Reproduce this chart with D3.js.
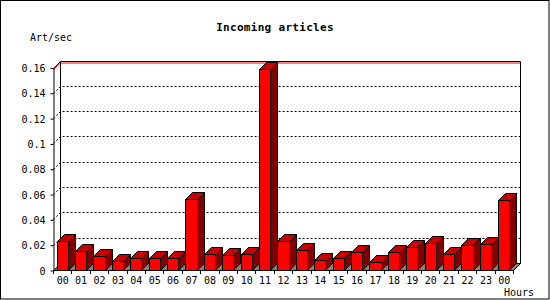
<!DOCTYPE html>
<html>
<head>
<meta charset="utf-8">
<script src="https://cdn.jsdelivr.net/npm/d3@7"></script>
<style>
  body { margin: 0; background: #fff; }
  svg { display: block; }
  text { font-family: "DejaVu Sans Mono", monospace; fill: #000; }
</style>
</head>
<body>
<svg id="chart" width="550" height="300"></svg>
<script>
const width = 550, height = 300;

// data
const hours = ["00", "01", "02", "03", "04", "05", "06", "07", "08", "09", "10", "11",
    "12", "13", "14", "15", "16", "17", "18", "19", "20", "21", "22", "23", "00"];
const artPerSec = [0.023, 0.015, 0.011, 0.007, 0.0095, 0.0095, 0.0095, 0.056, 0.013, 0.0116, 0.0126, 0.159,
    0.0229, 0.0158, 0.0079, 0.0095, 0.0142, 0.0061, 0.014, 0.0179, 0.0211, 0.0124, 0.0195, 0.0203, 0.0553];
const yTickValues = [0, 0.02, 0.04, 0.06, 0.08, 0.1, 0.12, 0.14, 0.16];
const yTickLabels = ["0", "0.02", "0.04", "0.06", "0.08", "0.1", "0.12", "0.14", "0.16"];

const plot = { left: 53, right: 513, top: 67.5, bottom: 270 };
const depth = 7;

const svg = d3.select("#chart");

// slot index -> x for the bars
const x = d3.scaleBand()
    .domain(d3.range(hours.length))
    .range([plot.left, plot.right])
    .paddingInner(0.4)
    .paddingOuter(0.2);

// slot boundaries for the small ticks
const xEdge = d3.scaleLinear()
    .domain([0, hours.length])
    .range([plot.left, plot.right]);

const y = d3.scaleLinear()
    .domain([0, 0.16])
    .range([plot.bottom, plot.top]);

svg.append("rect")
    .attr("x", 0.5).attr("y", 0.5)
    .attr("width", width - 1.5).attr("height", height - 1.5)
    .attr("fill", "#fff")
    .attr("stroke", "#000");

// back wall grid lines (dotted, bent back from the front axis)
svg.append("g")
    .selectAll("path")
    .data(yTickValues.filter(v => v > 0 && v < 0.16))
    .enter()
    .append("path")
    .attr("d", v => {
        const yy = Math.round(y(v)) + 0.5;
        return `M${plot.left + 0.5},${yy} L${plot.left + depth + 0.5},${yy - depth} L${plot.right + depth + 0.5},${yy - depth}`;
    })
    .attr("fill", "none")
    .attr("stroke", "#000")
    .attr("stroke-dasharray", "2,2");

// back wall frame
const topY = Math.round(y(0.16)) + 0.5;
svg.append("path")
    .attr("d", `M${plot.left + 0.5},${topY + 1} L${plot.left + depth + 0.5},${topY - depth + 1.5} L${plot.right + depth + 0.5},${topY - depth + 1.5}`)
    .attr("fill", "none")
    .attr("stroke", "#ff0000");
svg.append("path")
    .attr("d", `M${plot.left + 0.5},${topY} L${plot.left + depth + 0.5},${topY - depth} L${plot.right + depth + 0.5},${topY - depth} L${plot.right + depth + 0.5},${plot.bottom - depth + 0.5}`)
    .attr("fill", "none")
    .attr("stroke", "#000");
svg.append("line")
    .attr("x1", plot.left + depth + 0.5).attr("x2", plot.left + depth + 0.5)
    .attr("y1", topY - depth).attr("y2", plot.bottom - depth + 0.5)
    .attr("stroke", "#000");

// floor
svg.append("path")
    .attr("d", `M${plot.left + 0.5},${plot.bottom + 0.5} L${plot.left + depth + 0.5},${plot.bottom - depth + 0.5} L${plot.right + depth + 0.5},${plot.bottom - depth + 0.5} L${plot.right + 0.5},${plot.bottom + 0.5} Z`)
    .attr("fill", "#808080")
    .attr("stroke", "#000");

// bars
const bw = x.bandwidth();
const bars = svg.append("g")
    .selectAll("g")
    .data(artPerSec)
    .enter()
    .append("g")
    .attr("stroke", "#000")
    .attr("stroke-linejoin", "miter");

bars.append("path")
    .attr("fill", "#800000")
    .attr("d", (d, i) => {
        const x1 = Math.round(x(i) + bw) + 0.5, yt = Math.round(y(d)) + 0.5;
        return `M${x1},${yt} L${x1 + depth},${yt - depth} L${x1 + depth},${plot.bottom - depth + 0.5} L${x1},${plot.bottom + 0.5} Z`;
    });

bars.append("path")
    .attr("fill", "#c80000")
    .attr("d", (d, i) => {
        const x0 = Math.round(x(i)) + 0.5, x1 = Math.round(x(i) + bw) + 0.5, yt = Math.round(y(d)) + 0.5;
        return `M${x0},${yt} L${x0 + depth},${yt - depth} L${x1 + depth},${yt - depth} L${x1},${yt} Z`;
    });

bars.append("rect")
    .attr("fill", "#ff0000")
    .attr("x", (d, i) => Math.round(x(i)) + 0.5)
    .attr("y", d => Math.round(y(d)) + 0.5)
    .attr("width", (d, i) => Math.round(x(i) + bw) - Math.round(x(i)))
    .attr("height", d => plot.bottom - Math.round(y(d)));

// front y axis
const yAxis = svg.append("g")
    .attr("transform", `translate(${plot.left + 0.5},0.5)`)
    .call(d3.axisLeft(y)
        .tickValues(yTickValues)
        .tickFormat((d, i) => yTickLabels[i])
        .tickSize(3)
        .tickSizeOuter(0)
        .tickPadding(5));
yAxis.selectAll("path, line").attr("stroke", "#000");
yAxis.selectAll("text")
    .attr("dy", "0.36em")
    .style("font-size", "10px")
    .attr("x", -8);

// front baseline and hour ticks
svg.append("line")
    .attr("x1", plot.left).attr("x2", plot.right + 1)
    .attr("y1", plot.bottom + 0.5).attr("y2", plot.bottom + 0.5)
    .attr("stroke", "#000");

svg.append("g")
    .selectAll("line")
    .data(d3.range(hours.length + 1))
    .enter()
    .append("line")
    .attr("x1", i => Math.round(xEdge(i)) + 0.5)
    .attr("x2", i => Math.round(xEdge(i)) + 0.5)
    .attr("y1", plot.bottom)
    .attr("y2", plot.bottom + 4)
    .attr("stroke", "#000");

svg.append("g")
    .selectAll("text")
    .data(hours)
    .enter()
    .append("text")
    .attr("x", (d, i) => x(i) + bw / 2 + 0.5)
    .attr("y", 283.5)
    .attr("text-anchor", "middle")
    .style("font-size", "10px")
    .text(d => d);

// titles
svg.append("text")
    .attr("x", width / 2)
    .attr("y", 31)
    .attr("text-anchor", "middle")
    .style("font-size", "11px")
    .style("font-weight", "bold")
    .style("letter-spacing", "0.3px")
    .text("Incoming articles");

svg.append("text")
    .attr("x", 30)
    .attr("y", 41)
    .style("font-size", "10px")
    .text("Art/sec");

svg.append("text")
    .attr("x", 504)
    .attr("y", 296)
    .style("font-size", "10px")
    .text("Hours");
</script>
</body>
</html>
